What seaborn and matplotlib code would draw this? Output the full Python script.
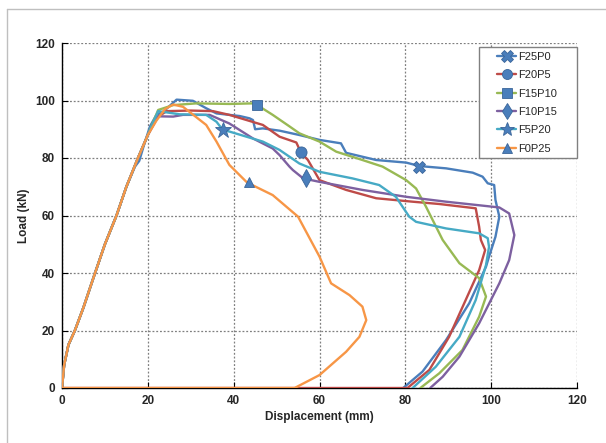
import matplotlib
matplotlib.use("Agg")
import matplotlib.pyplot as plt
from matplotlib.lines import Line2D
from matplotlib.patches import Rectangle
import seaborn as sns
import pandas as pd

series_names = ["F25P0", "F20P5", "F15P10", "F10P15", "F5P20", "F0P25"]
series_colors = ["#4A7EBB", "#BE4B48", "#98B954", "#7D60A0", "#46AAC5", "#F79646"]
series_markers = ["X", "o", "s", "d", "*", "^"]
marker_sizes = [9, 8, 7.5, 9, 12, 7.5]

rise_x = [0, 0.5, 1.5, 3, 5, 7.7, 10, 12.7, 15, 17.7, 20]
rise_y = [0, 8, 15, 20, 28, 40, 50, 60, 70, 80, 88]

f25p0_x = [0, 0.5, 1.5, 3, 5, 7.7, 10, 12.7, 15, 17, 18, 19, 20.5, 22, 23.6, 26.7, 30.5, 33.6, 36, 41.4,
           43.7, 44.5, 45, 46.8, 50.7, 55.3, 60, 65, 66.2, 73.2, 80.2, 83.3, 89.5, 95.7, 98, 99.2, 100.7,
           101, 101.9, 101, 99.5, 98.8, 94.9, 89.5, 84, 79.5]
f25p0_y = [0, 8, 15, 20, 28, 40, 50, 60, 70, 77, 79, 84, 91, 95, 96.1, 100.3, 99.9, 97.3, 95.5, 94.6,
           93.8, 93.2, 90, 90.3, 89.5, 88, 86.3, 85.1, 81.8, 79.3, 78.4, 77.2, 76.4, 74.9, 73.5, 71.2, 70.6,
           65.4, 59.6, 52.6, 45.7, 42.2, 29.5, 16.7, 5.7, 0]

f20p5_x = rise_x + [22, 24.4, 30, 35.2, 39, 46.8, 50.7, 54.6, 55.7, 57.3, 60, 66.2, 73.2, 81.7, 87.9,
                    96.4, 97.2, 97.6, 98.6, 97.2, 90.2, 85.6, 80.5, 0]
f20p5_y = rise_y + [94, 96.3, 96.5, 96.3, 95, 91.5, 87.4, 85.4, 81.8, 79.3, 72.3, 68.9, 66, 64.8, 64,
                    62.5, 56.1, 51.5, 48, 41, 17.8, 6.3, 0, 0]

f15p10_x = rise_x + [22.4, 25.9, 31.3, 39, 44.5, 45.5, 49.1, 53, 55.3, 60, 63.9, 70, 74.7, 80.2, 82.5,
                     84.8, 88.7, 92.6, 97.2, 98.8, 97.2, 93.3, 87.9, 83.5]
f15p10_y = rise_y + [96.7, 98.4, 99, 98.8, 99, 98.4, 95, 91, 88.6, 85.7, 82.2, 79.3, 77, 72.3, 69.4,
                     63.1, 51.5, 43.4, 38.2, 31.8, 24.8, 13.2, 5.1, 0]

f10p15_x = rise_x + [22.4, 25.9, 28.2, 34.4, 39, 44.5, 49.1, 50.7, 53, 53.8, 56.2, 60, 70, 80.2, 89.5,
                     101.9, 104.2, 105.4, 104.2, 101.9, 97.2, 92.6, 88.7, 85.8]
f10p15_y = rise_y + [94.5, 94.4, 95, 95, 92, 86.8, 83.3, 81, 77, 75.8, 72.9, 71.7, 68.9, 66.5, 64.8,
                     62.8, 60.7, 53.2, 44.5, 36.4, 22.5, 10.9, 3.9, 0]

f5p20_x = rise_x + [22.4, 27.4, 33.6, 36, 37.5, 39, 46.8, 50.7, 55.3, 60, 67.7, 73.9, 77.8, 80.9, 82.5,
                    89.5, 97.2, 99.2, 99.5, 98.8, 96.4, 92.6, 87.1, 81.7]
f5p20_y = rise_y + [96.3, 95.2, 95, 92.6, 89.7, 89.2, 85.7, 82.8, 78.1, 75.2, 72.9, 70.6, 66.5, 59.6, 57.8,
                    55.5, 53.8, 52.1, 49.1, 42.8, 30.6, 17.8, 7.4, 0]

f0p25_x = rise_x + [22, 24, 25.9, 28.2, 33.6, 36, 39, 42.9, 43.5, 49.1, 55, 60, 62.7, 67, 70, 70.9, 69.3,
                    66.2, 60, 54.2, 0]
f0p25_y = rise_y + [93, 97, 98.6, 97.8, 91.5, 85.7, 77.6, 71.8, 71.2, 67.1, 59.6, 45.7, 36.4, 32.3, 28.3,
                    23.6, 17.8, 12.6, 4.5, 0, 0]

marker_x = [83.3, 55.7, 45.5, 56.8, 37.5, 43.5]
marker_y = [77.0, 82.0, 98.5, 73.2, 89.8, 71.5]

x_ticks = [0, 20, 40, 60, 80, 100, 120]
y_ticks = [0, 20, 40, 60, 80, 100, 120]

all_x = [f25p0_x, f20p5_x, f15p10_x, f10p15_x, f5p20_x, f0p25_x]
all_y = [f25p0_y, f20p5_y, f15p10_y, f10p15_y, f5p20_y, f0p25_y]

sns.set_theme(style="white")
plt.rcParams["font.family"] = ["Liberation Sans", "DejaVu Sans"]

fig = plt.figure(figsize=(6.06, 4.43), dpi=100)
ax = fig.add_axes([62 / 606, 1 - 388 / 443, 515 / 606, 345 / 443])

marker_color = "#4A7EBB"
marker_edge = "#3A6599"

for name, col, xs, ys in zip(series_names, series_colors, all_x, all_y):
    df = pd.DataFrame({"x": xs, "y": ys})
    sns.lineplot(data=df, x="x", y="y", sort=False, estimator=None, color=col, lw=1.7,
                 ax=ax, legend=False, zorder=3)

mdf = pd.DataFrame({"x": marker_x, "y": marker_y, "s": series_names})
for i, name in enumerate(series_names):
    sub = mdf[mdf["s"] == name]
    ax.plot(sub["x"], sub["y"], linestyle="none", marker=series_markers[i],
            markersize=marker_sizes[i], color=marker_color, markeredgecolor=marker_edge,
            markeredgewidth=0.6, zorder=4)

ax.set_xlim(0, 120)
ax.set_ylim(0, 120)
ax.set_xticks(x_ticks)
ax.set_yticks(y_ticks)
ax.set_xticklabels([str(t) for t in x_ticks], fontsize=8.5, fontweight="bold")
ax.set_yticklabels([str(t) for t in y_ticks], fontsize=8.5, fontweight="bold")
ax.tick_params(axis="both", direction="in", length=4, width=0.8, color="black", pad=5,
               bottom=True, left=True)
ax.set_xlabel("Displacement (mm)", fontsize=8.5, fontweight="bold", labelpad=3)
ax.set_ylabel("Load (kN)", fontsize=8.5, fontweight="bold", labelpad=4)

ax.grid(True, linestyle=(0, (1.5, 1.5)), color="#7f7f7f", linewidth=0.9)
for s in ["top", "right"]:
    ax.spines[s].set_visible(False)
for s in ["left", "bottom"]:
    ax.spines[s].set_color("black")
    ax.spines[s].set_linewidth(1.0)
    ax.spines[s].set_zorder(2.5)

# legend frame
fig.add_artist(Rectangle((479 / 606, 1 - 158 / 443), 98 / 606, 111 / 443, transform=fig.transFigure,
                         facecolor="white", edgecolor="#808080", lw=1.0, zorder=5))

handles = [Line2D([0], [0], color=c, lw=1.7, marker=m, markersize=ms * 0.9,
                  markerfacecolor=marker_color, markeredgecolor=marker_edge, markeredgewidth=0.6)
           for c, m, ms in zip(series_colors, series_markers, marker_sizes)]
leg = fig.legend(handles, series_names, loc="upper left", bbox_to_anchor=(497 / 606, 1 - 52 / 443),
                 bbox_transform=fig.transFigure, frameon=False, fontsize=8,
                 handlelength=1.75, handletextpad=0.15, labelspacing=0.75, borderpad=0,
                 borderaxespad=0)
leg.set_zorder(6)

# outer light frame
fig.add_artist(Line2D([7 / 606, 7 / 606], [0, 1 - 9 / 443], transform=fig.transFigure,
                      color="#BFBFBF", lw=1.0))
fig.add_artist(Line2D([7 / 606, 1], [1 - 9 / 443, 1 - 9 / 443], transform=fig.transFigure,
                      color="#BFBFBF", lw=1.0))

fig.savefig("out.png", dpi=100)
